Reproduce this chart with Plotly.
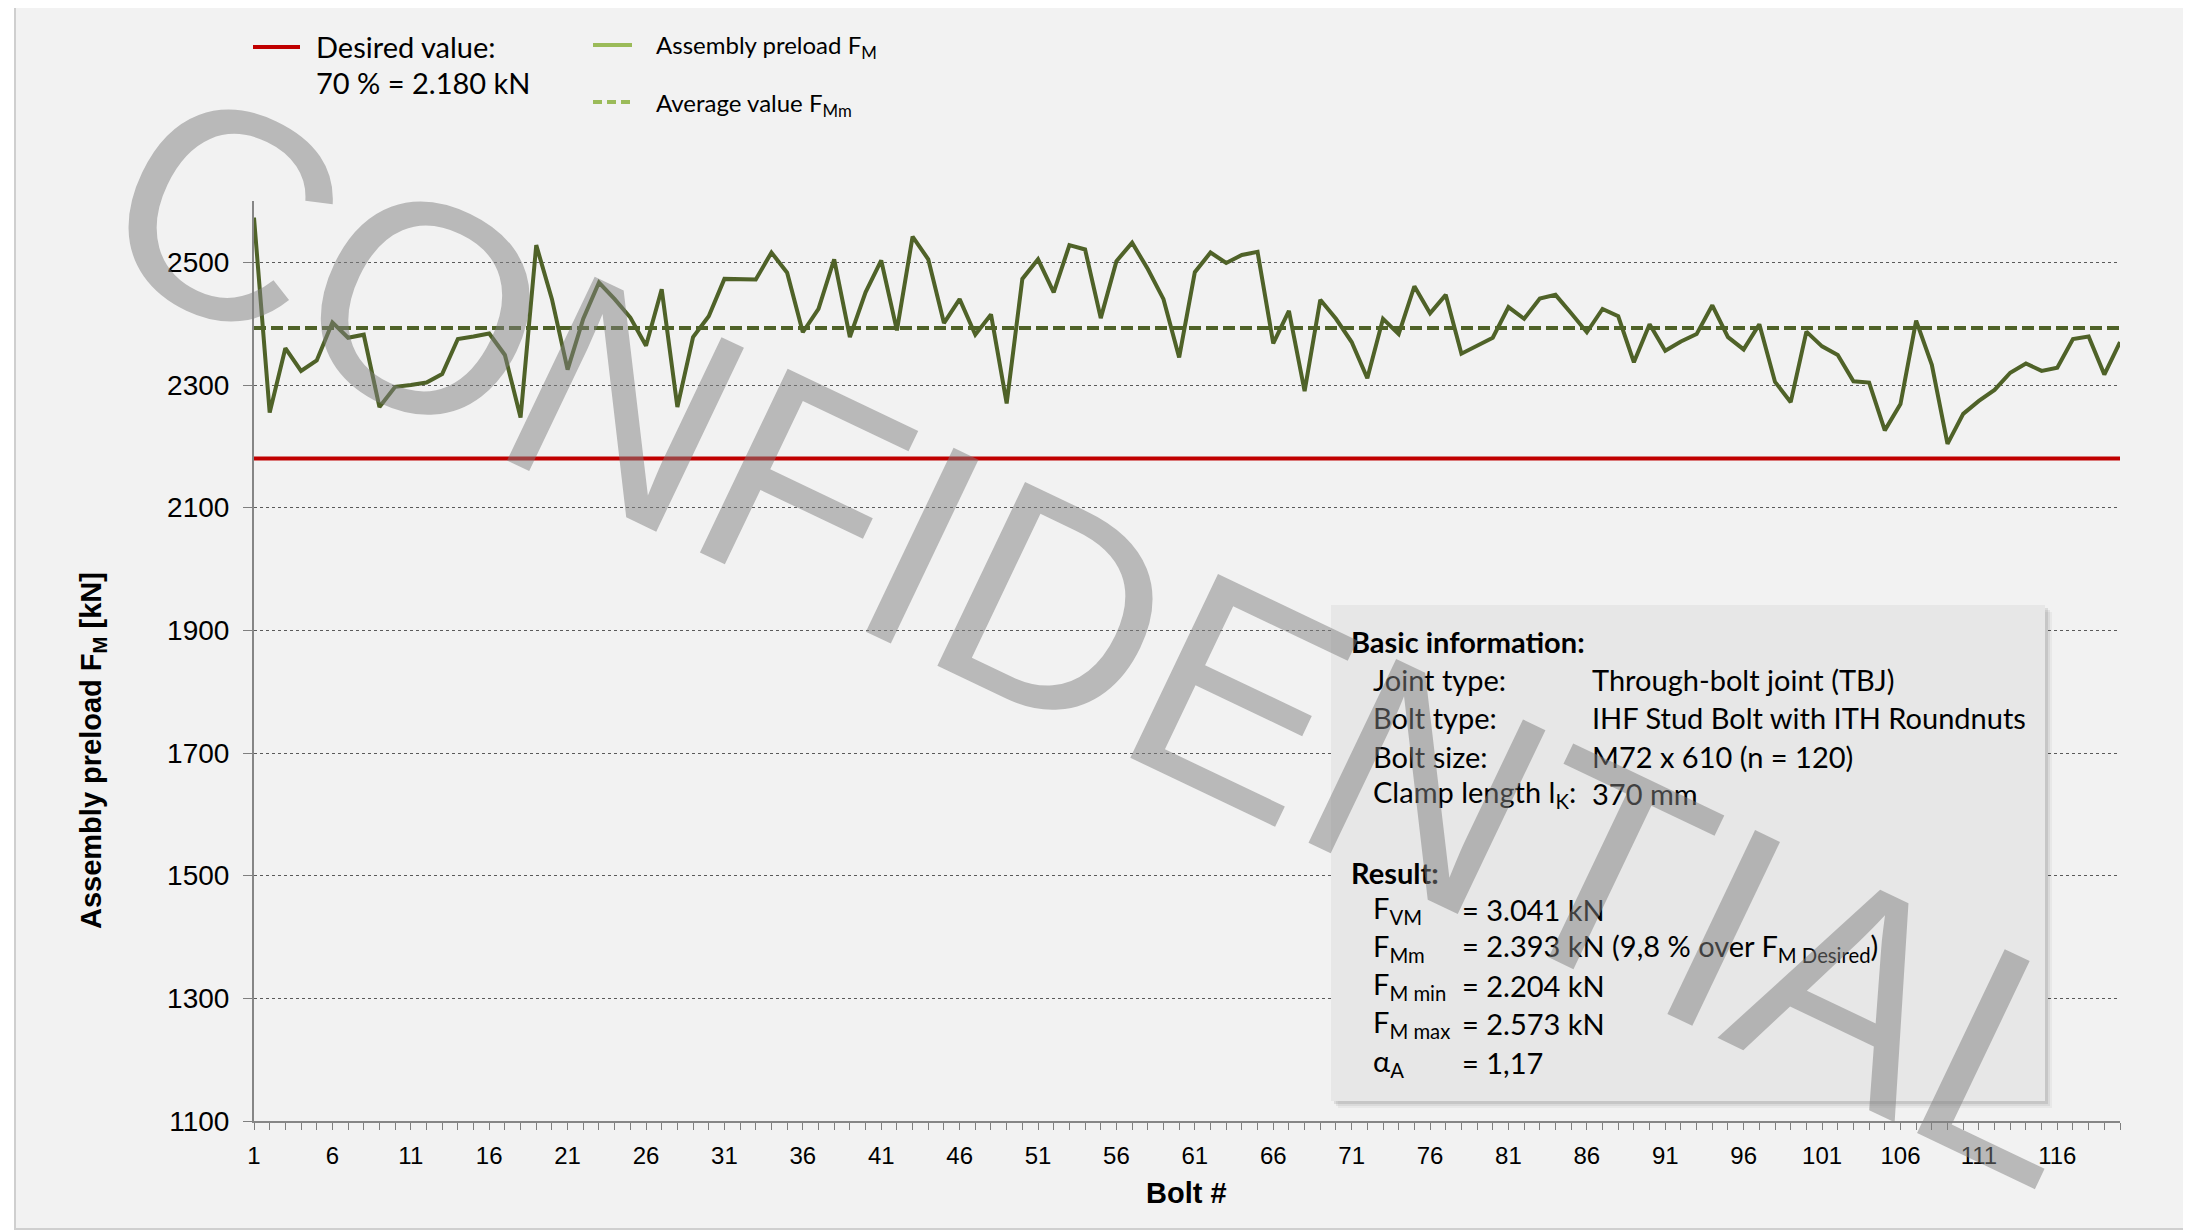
import plotly.graph_objects as go

# ---------------- data ----------------
bolts = list(range(1, 121))
preload = [
    2573, 2255, 2360, 2323, 2340, 2402, 2377, 2382, 2264, 2297,
    2300, 2304, 2318, 2375, 2379, 2384, 2349, 2247, 2528, 2440,
    2325, 2408, 2467, 2440, 2410, 2364, 2456, 2264, 2378, 2412,
    2473, 2472, 2472, 2516, 2483, 2386, 2424, 2505, 2378, 2451,
    2503, 2389, 2542, 2505, 2401, 2440, 2382, 2415, 2270, 2473,
    2505, 2451, 2528, 2521, 2409, 2502, 2532, 2489, 2440, 2345,
    2484, 2516, 2499, 2512, 2517, 2368, 2421, 2290, 2439, 2408,
    2370, 2311, 2408, 2383, 2461, 2417, 2447, 2351, 2364, 2377,
    2427, 2408, 2441, 2447, 2417, 2386, 2424, 2412, 2337, 2399,
    2356, 2371, 2383, 2430, 2378, 2358, 2399, 2305, 2272, 2387,
    2363, 2349, 2306, 2304, 2226, 2269, 2405, 2333, 2204, 2253,
    2274, 2292, 2320, 2335, 2323, 2328, 2375, 2379, 2317, 2370,
]
desired_value = 2180
average_value = 2393
y_tick_values = [1100, 1300, 1500, 1700, 1900, 2100, 2300, 2500]
x_tick_labels = [str(b) if (b - 1) % 5 == 0 else "" for b in bolts]

info_labels = ["Joint type:", "Bolt type:", "Bolt size:", "Clamp length l<sub>K</sub>:"]
info_values = ["Through-bolt joint (TBJ)", "IHF Stud Bolt with ITH Roundnuts",
               "M72 x 610 (n = 120)", "370 mm"]
result_labels = ["F<sub>VM</sub>", "F<sub>Mm</sub>", "F<sub>M min</sub>",
                 "F<sub>M max</sub>", "α<sub>A</sub>"]
result_values = ["= 3.041 kN", "= 2.393 kN (9,8 % over F<sub>M Desired</sub>)",
                 "= 2.204 kN", "= 2.573 kN", "= 1,17"]

# ---------------- geometry helpers (screen coordinates) ----------------
OFF = 8                      # default page margin around the figure
FIG_W, FIG_H = 2191 - OFF, 1232 - OFF
L, R, T, B = 246, 71, 193, 111
PW, PH = FIG_W - L - R, FIG_H - T - B


def px(x):
    return (x - OFF - L) / PW


def py(y):
    return (FIG_H - B - (y - OFF)) / PH


SANS = "Liberation Sans, Arial, sans-serif"
CAL = "Lato, Carlito, Calibri, sans-serif"
OLIVE = "#4F6228"
LIGHT_GREEN = "#9BBB59"
RED = "#C00000"

fig = go.Figure()
fig.add_trace(go.Scatter(x=bolts, y=[desired_value] * len(bolts), mode="lines",
                         line=dict(color=RED, width=4), name="Desired value",
                         showlegend=False, hoverinfo="skip"))
fig.add_trace(go.Scatter(x=bolts, y=[average_value] * len(bolts), mode="lines",
                         line=dict(color=OLIVE, width=4, dash="12px,5px"),
                         name="Average value", showlegend=False))
fig.add_trace(go.Scatter(x=bolts, y=preload, mode="lines",
                         line=dict(color=OLIVE, width=4), name="Assembly preload",
                         showlegend=False))

shapes = []
# chart frame
shapes.append(dict(type="rect", xref="paper", yref="paper", layer="below",
                   x0=px(15), x1=px(2300), y0=py(1229), y1=py(-50),
                   fillcolor="#F2F2F2", line=dict(color="#CFCFCF", width=2)))
# legend samples
shapes.append(dict(type="line", xref="paper", yref="paper", x0=px(253), x1=px(300),
                   y0=py(47), y1=py(47), line=dict(color=RED, width=4)))
shapes.append(dict(type="line", xref="paper", yref="paper", x0=px(593), x1=px(632),
                   y0=py(45), y1=py(45), line=dict(color=LIGHT_GREEN, width=4)))
shapes.append(dict(type="line", xref="paper", yref="paper", x0=px(593), x1=px(632),
                   y0=py(102), y1=py(102),
                   line=dict(color=LIGHT_GREEN, width=4, dash="9px,5px")))
# info box with shadow
bx0, bx1, by0, by1 = 1331, 2045, 605, 1101
for off, op in [(7, 0.04), (5, 0.06), (3, 0.09)]:
    shapes.append(dict(type="rect", xref="paper", yref="paper", layer="above",
                       x0=px(bx0 + off), x1=px(bx1 + off), y0=py(by1 + off), y1=py(by0 + off),
                       fillcolor=f"rgba(0,0,0,{op})", line=dict(width=0)))
shapes.append(dict(type="rect", xref="paper", yref="paper", layer="above",
                   x0=px(bx0), x1=px(bx1), y0=py(by1), y1=py(by0),
                   fillcolor="#E7E7E7", line=dict(width=0)))

annotations = []


def text(x, y, s, size, family=CAL, bold=False, xanchor="left", angle=0, color="black"):
    annotations.append(dict(x=px(x), y=py(y), xref="paper", yref="paper", text=s,
                            showarrow=False, xanchor=xanchor, yanchor="middle",
                            textangle=angle,
                            font=dict(family=family, size=size, color=color,
                                      weight="bold" if bold else "normal")))


# legend texts
text(314, 47, "Desired value:", 29)
text(314, 82, "70 % = 2.180 kN", 29)
text(654, 47, "Assembly preload F<sub>M</sub>", 24)
text(654, 104, "Average value F<sub>Mm</sub>", 24)

# axis titles
text(253.5 + (2120 - 253.5) / 2, 1193, "Bolt #", 29, family=SANS, bold=True, xanchor="center")
text(93, 751, "Assembly preload F<sub>M</sub> [kN]", 29, family=SANS, bold=True,
     xanchor="center", angle=-90)

# info box texts
text(1349, 641, "<b>Basic information:</b>", 29)
rows_y = [679, 717, 756, 793]
for lab, val, yy in zip(info_labels, info_values, rows_y):
    text(1371, yy, lab, 29)
    text(1590, yy, val, 29)
text(1349, 872, "<b>Result:</b>", 29)
res_y = [909, 947, 985, 1023, 1062]
for lab, val, yy in zip(result_labels, result_values, res_y):
    text(1371, yy, lab, 29)
    text(1460, yy, val, 29)

# watermark
annotations.append(dict(x=px(1108), y=py(633), xref="paper", yref="paper",
                        text="CONFIDENTIAL", showarrow=False, xanchor="center",
                        yanchor="middle", textangle=25.5,
                        font=dict(family=SANS, size=296, color="rgba(128,128,128,0.5)")))

fig.update_layout(
    width=FIG_W, height=FIG_H,
    margin=dict(l=L, r=R, t=T, b=B, pad=0),
    paper_bgcolor="white", plot_bgcolor="#F2F2F2",
    showlegend=False,
    shapes=shapes, annotations=annotations,
    xaxis=dict(range=[1, 120], tickmode="array", tickvals=bolts, ticktext=x_tick_labels,
               ticks="outside", ticklen=7, tickwidth=1, tickcolor="#7F7F7F",
               showline=True, linecolor="#868686", linewidth=2,
               showgrid=False, zeroline=False, ticklabelstandoff=5,
               tickfont=dict(family=SANS, size=24, color="black")),
    yaxis=dict(range=[1100, 2600], tickmode="array", tickvals=y_tick_values,
               ticks="outside", ticklen=9, tickwidth=1, tickcolor="#7F7F7F",
               showline=True, linecolor="#868686", linewidth=2,
               showgrid=True, gridcolor="#5A5A5A", gridwidth=1, griddash="dot",
               zeroline=False, ticklabelstandoff=8,
               tickfont=dict(family=SANS, size=28, color="black")),
)

fig.write_html("out.html")
